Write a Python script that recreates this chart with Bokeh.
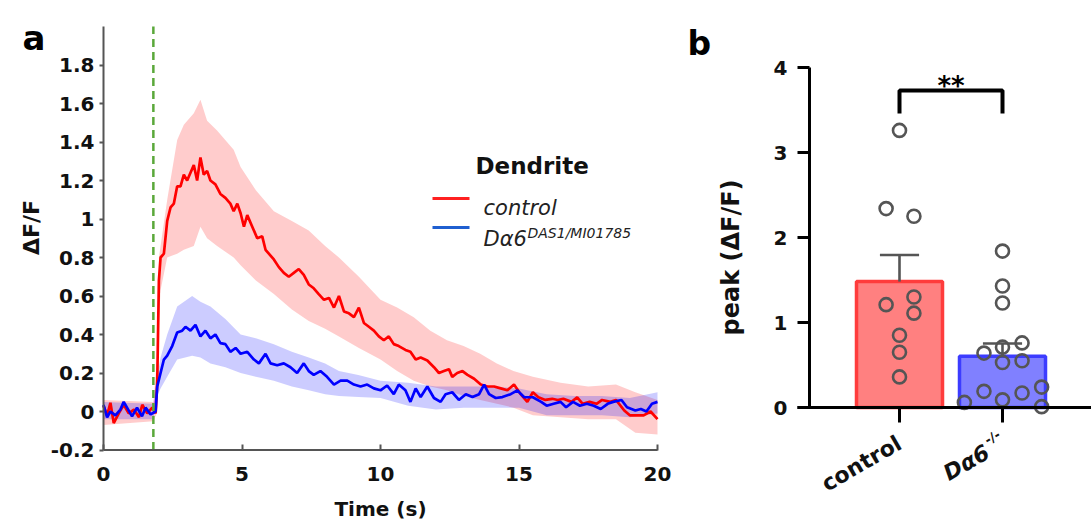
import numpy as np
from bokeh.plotting import figure
from bokeh.models import Range1d, FixedTicker, Label
from bokeh.layouts import row
from bokeh.embed import file_html
from bokeh.resources import INLINE

FONT = "DejaVu Sans"

# ---------------- panel a : calcium traces ----------------
red_t = [0.0, 0.13, 0.25, 0.37, 0.55, 0.73, 0.91, 1.1, 1.28, 1.4, 1.58, 1.76, 1.88,
         1.94, 2.0, 2.06, 2.18, 2.30, 2.42, 2.54, 2.66, 2.78, 2.90, 3.02, 3.14, 3.26,
         3.38, 3.50, 3.62, 3.74, 3.86, 4.04, 4.22, 4.40, 4.58, 4.70, 4.83, 4.95, 5.07,
         5.19, 5.37, 5.55, 5.73, 5.85, 6.03, 6.15, 6.33, 6.51, 6.69, 6.87, 7.05, 7.23,
         7.41, 7.59, 7.77, 7.96, 8.14, 8.32, 8.50, 8.68, 8.86, 9.04, 9.22, 9.40, 9.58,
         9.76, 9.94, 10.12, 10.30, 10.48, 10.66, 10.90, 11.08, 11.27, 11.45, 11.69,
         11.93, 12.11, 12.29, 12.47, 12.59, 12.77, 12.96, 13.14, 13.38, 13.62, 13.86,
         14.10, 14.34, 14.58, 14.82, 15.06, 15.30, 15.50, 15.70, 15.95, 16.20, 16.40,
         16.60, 16.90, 17.10, 17.30, 17.55, 17.80, 18.00, 18.30, 18.50, 18.80, 19.00,
         19.30, 19.50, 19.75, 20.00]
red_v = [0.03, -0.02, 0.045, -0.06, -0.01, 0.035, -0.01, 0.01, -0.03, 0.035, -0.01, 0.02, -0.01,
         0.15, 0.68, 0.80, 0.82, 0.99, 1.06, 1.08, 1.17, 1.17, 1.23, 1.20, 1.24, 1.28,
         1.20, 1.32, 1.23, 1.25, 1.20, 1.18, 1.13, 1.11, 1.08, 1.04, 1.08, 1.03, 0.96,
         1.02, 0.96, 0.90, 0.91, 0.84, 0.81, 0.79, 0.75, 0.72, 0.70, 0.72, 0.74, 0.71,
         0.66, 0.64, 0.61, 0.58, 0.59, 0.54, 0.60, 0.52, 0.51, 0.49, 0.54, 0.46, 0.44,
         0.42, 0.39, 0.37, 0.39, 0.35, 0.34, 0.32, 0.31, 0.27, 0.28, 0.265,
         0.23, 0.20, 0.21, 0.22, 0.18, 0.20, 0.21, 0.19, 0.17, 0.14, 0.13,
         0.13, 0.12, 0.11, 0.14, 0.09, 0.05, 0.10, 0.074, 0.06, 0.066, 0.06,
         0.066, 0.05, 0.074, 0.04, 0.05, 0.04, 0.06, 0.05, 0.06, 0.005, -0.02,
         -0.02, -0.02, 0.0, -0.04]

blue_t = [0.0, 0.13, 0.25, 0.43, 0.61, 0.73, 0.85, 1.03, 1.21, 1.39, 1.52, 1.70, 1.88,
          1.94, 2.06, 2.18, 2.30, 2.48, 2.66, 2.84, 2.96, 3.14, 3.32, 3.50, 3.68, 3.86,
          4.04, 4.22, 4.40, 4.58, 4.77, 4.95, 5.19, 5.43, 5.61, 5.85, 6.03, 6.27, 6.51,
          6.75, 6.99, 7.23, 7.41, 7.59, 7.83, 8.07, 8.32, 8.56, 8.80, 9.04, 9.28, 9.52,
          9.76, 10.00, 10.24, 10.48, 10.66, 10.90, 11.08, 11.27, 11.45, 11.69, 11.93,
          12.17, 12.35, 12.59, 12.83, 13.08, 13.32, 13.56, 13.74, 13.92, 14.16, 14.40,
          14.70, 14.94, 15.18, 15.50, 15.80, 16.00, 16.25, 16.50, 16.70, 16.95, 17.20,
          17.45, 17.70, 17.95, 18.20, 18.40, 18.70, 18.90, 19.20, 19.40, 19.60, 19.80, 20.00]
blue_v = [0.035, -0.03, 0.0, -0.02, 0.01, 0.05, 0.02, -0.025, 0.02, -0.025, 0.02, -0.015, 0.0,
          0.13, 0.20, 0.27, 0.29, 0.34, 0.41, 0.42, 0.44, 0.42, 0.45, 0.39, 0.42, 0.38,
          0.40, 0.355, 0.35, 0.31, 0.33, 0.30, 0.31, 0.27, 0.25, 0.30, 0.25, 0.24, 0.25,
          0.23, 0.20, 0.25, 0.21, 0.19, 0.21, 0.18, 0.14, 0.16, 0.16, 0.14, 0.13, 0.14,
          0.12, 0.11, 0.135, 0.09, 0.14, 0.11, 0.05, 0.12, 0.075, 0.13, 0.07,
          0.05, 0.09, 0.10, 0.06, 0.09, 0.075, 0.09, 0.14, 0.09, 0.07, 0.075,
          0.09, 0.11, 0.075, 0.074, 0.05, 0.03, 0.04, 0.05, 0.022, 0.05, 0.03,
          0.04, 0.03, 0.013, 0.04, 0.05, 0.06, 0.022, 0.005, 0.013, 0.0, 0.04, 0.05]

red_band_t = [0, 1.8, 1.95, 2.0, 2.06, 2.3, 2.66, 2.9, 3.26, 3.5, 3.74, 4.1, 4.7, 4.95, 5.5,
              6.15, 6.8, 7.41, 8.0, 8.5, 9.22, 10.0, 10.6, 11.2, 11.8, 12.4, 13.0, 13.6,
              14.2, 14.8, 15.5, 16.5, 17.5, 18.5, 19.2, 20]
red_upper = [0.06, 0.05, 0.30, 0.80, 0.86, 1.10, 1.41, 1.49, 1.55, 1.62, 1.51, 1.46, 1.36, 1.27,
             1.15, 1.04, 0.99, 0.94, 0.86, 0.80, 0.70, 0.58, 0.54, 0.49, 0.42, 0.37, 0.34,
             0.30, 0.25, 0.21, 0.18, 0.15, 0.13, 0.14, 0.10, 0.06]
red_lower = [-0.07, -0.05, 0.0, 0.45, 0.63, 0.80, 0.82, 0.84, 0.86, 0.96, 0.90, 0.86, 0.80, 0.76,
             0.68, 0.61, 0.53, 0.47, 0.43, 0.39, 0.33, 0.27, 0.21, 0.16, 0.13, 0.11, 0.08,
             0.06, 0.04, 0.02, -0.02, -0.03, -0.04, -0.04, -0.11, -0.12]

blue_band_t = [0, 1.8, 1.94, 2.06, 2.3, 2.66, 3.2, 3.5, 3.86, 4.4, 4.95, 5.5, 6.15, 6.8, 7.41,
               8.0, 8.5, 9.2, 10.0, 11.0, 12.0, 13.0, 14.0, 15.0, 16.0, 17.0, 18.0, 19.0, 20.0]
blue_upper = [0.05, 0.04, 0.18, 0.28, 0.40, 0.545, 0.60, 0.57, 0.545, 0.48, 0.40, 0.38, 0.35,
              0.31, 0.28, 0.25, 0.21, 0.19, 0.16, 0.15, 0.13, 0.13, 0.13, 0.12, 0.09, 0.08,
              0.08, 0.07, 0.10]
blue_lower = [-0.04, -0.04, 0.08, 0.12, 0.18, 0.27, 0.29, 0.28, 0.25, 0.23, 0.20, 0.18, 0.16,
              0.13, 0.11, 0.09, 0.08, 0.075, 0.07, 0.03, 0.01, 0.02, 0.02, 0.02, -0.02, -0.02,
              -0.02, -0.03, -0.01]

stim_time = 1.8
a_xlim = [0, 20]
a_ylim = [-0.2, 2.0]
a_xticks = [0, 5, 10, 15, 20]
a_yticks = [-0.2, 0, 0.2, 0.4, 0.6, 0.8, 1, 1.2, 1.4, 1.6, 1.8]
a_ytick_labels = ["-0.2", "0", "0.2", "0.4", "0.6", "0.8", "1", "1.2", "1.4", "1.6", "1.8"]
a_xlabel = "Time (s)"
a_ylabel = "ΔF/F"
legend_title = "Dendrite"
legend_names = ["control", "Dα6"]
legend_sup = "DAS1/MI01785"

# ---------------- panel b : peak values ----------------
b_categories = ["control", "Dα6"]
b_sup = "-/-"
b_ylabel = "peak (ΔF/F)"
control_peaks = [3.26, 2.34, 2.25, 1.21, 1.30, 1.11, 0.85, 0.65, 0.36]
control_jitter = [0.0, -0.13, 0.14, -0.13, 0.14, 0.14, 0.0, 0.0, 0.0]
da6_peaks = [1.84, 1.43, 1.23, 0.64, 0.71, 0.76, 0.53, 0.55, 0.19, 0.17, 0.24, 0.06, 0.09, 0.01]
da6_jitter = [0.0, 0.0, 0.0, -0.18, 0.0, 0.19, 0.0, 0.19, -0.18, 0.19, 0.38, -0.37, 0.0, 0.38]
b_yticks = [0, 1, 2, 3, 4]
sig_text = "**"

TXT = "#111111"

# ================= figure a =================
W_A, W_B, H = 680, 411, 525
AX, AY = 27.7, 192.5          # px per data unit
A_X0PX, A_Y0PX = 103, 411      # canvas position of (0, 0)

def a_pos(px, py):
    return (px - A_X0PX) / AX, (A_Y0PX - py) / AY

ax_lo, ay_hi = a_pos(0, 0)
ax_hi, ay_lo = a_pos(W_A, H)
pa = figure(width=W_A, height=H, x_range=Range1d(ax_lo, ax_hi), y_range=Range1d(ay_lo, ay_hi),
            output_backend="svg", toolbar_location=None,
            min_border_left=0, min_border_right=0, min_border_top=0, min_border_bottom=0)
pa.outline_line_color = None
pa.grid.visible = False

pa.varea(x=red_band_t, y1=red_lower, y2=red_upper, fill_color="#ff0000", fill_alpha=0.2)
pa.varea(x=blue_band_t, y1=blue_lower, y2=blue_upper, fill_color="#0000ff", fill_alpha=0.2)
pa.line(red_t, red_v, line_color="#ff0000", line_width=2.7)
pa.line(blue_t, blue_v, line_color="#0000ff", line_width=2.7)
pa.segment(x0=[stim_time], y0=[a_ylim[0]], x1=[stim_time], y1=[a_ylim[1]],
           line_color="#5aa83a", line_dash="8 5", line_width=2.5)

# axis lines
pa.segment(x0=[a_xlim[0], a_xlim[0]], y0=[a_ylim[0], a_ylim[0]],
           x1=[a_xlim[1], a_xlim[0]], y1=[a_ylim[0], a_ylim[1]],
           line_color="#555555", line_width=2)

xa = pa.xaxis[0]
xa.fixed_location = a_ylim[0]
xa.ticker = FixedTicker(ticks=a_xticks)
xa.axis_line_color = None
xa.major_tick_in = 6
xa.major_tick_out = 0
xa.minor_tick_line_color = None
xa.major_tick_line_color = "#555555"
xa.major_tick_line_width = 2
xa.major_label_text_font = FONT
xa.major_label_text_font_size = "20px"
xa.major_label_text_font_style = "bold"
xa.major_label_text_color = TXT
xa.major_label_standoff = 17

ya = pa.yaxis[0]
ya.fixed_location = a_xlim[0]
ya.ticker = FixedTicker(ticks=a_yticks)
ya.major_label_overrides = {t: s for t, s in zip(a_yticks, a_ytick_labels)}
ya.axis_line_color = None
ya.major_tick_in = 0
ya.major_tick_out = 4
ya.minor_tick_line_color = None
ya.major_tick_line_color = "#555555"
ya.major_tick_line_width = 2
ya.major_label_text_font = FONT
ya.major_label_text_font_size = "20px"
ya.major_label_text_font_style = "bold"
ya.major_label_text_color = TXT
ya.major_label_standoff = 5

tx, ty = a_pos(380, 508)
pa.add_layout(Label(x=tx, y=ty, text=a_xlabel, text_font=FONT, text_font_size="20px",
                    text_font_style="bold", text_color=TXT, text_align="center",
                    text_baseline="middle"))
tx, ty = a_pos(31, 227)
pa.add_layout(Label(x=tx, y=ty, text=a_ylabel, text_font=FONT, text_font_size="22px",
                    text_font_style="bold", text_color=TXT, text_align="center",
                    text_baseline="middle", angle=90, angle_units="deg"))

# legend (a)
lx0, ly_r = a_pos(432, 198)
lx1, ly_b = a_pos(469, 227)
pa.segment(x0=[lx0], y0=[ly_r], x1=[lx1], y1=[ly_r], line_color="#ff2020", line_width=3)
pa.segment(x0=[lx0], y0=[ly_b], x1=[lx1], y1=[ly_b], line_color="#1f5fd0", line_width=3)

tx, ty = a_pos(475, 165)
pa.add_layout(Label(x=tx, y=ty, text=legend_title, text_font=FONT, text_font_size="23px",
                    text_font_style="bold", text_color=TXT, text_baseline="alphabetic"))
tx, ty = a_pos(483, 207)
pa.add_layout(Label(x=tx, y=ty, text=legend_names[0], text_font=FONT, text_font_size="21px",
                    text_font_style="italic", text_color="#222222", text_baseline="alphabetic"))
tx, ty = a_pos(483, 238)
pa.add_layout(Label(x=tx, y=ty, text=legend_names[1], text_font=FONT, text_font_size="21px",
                    text_font_style="italic", text_color="#222222", text_baseline="alphabetic"))
tx, ty = a_pos(527, 232)
pa.add_layout(Label(x=tx, y=ty, text=legend_sup, text_font=FONT, text_font_size="14px",
                    text_font_style="italic", text_color="#222222", text_baseline="alphabetic"))
tx, ty = a_pos(22, 37)
pa.add_layout(Label(x=tx, y=ty, text="a", text_font=FONT, text_font_size="34px",
                    text_font_style="bold", text_color="black", text_baseline="alphabetic"))

# ================= figure b =================
BX, BY = 103.0, 85.0           # px per data unit
B_X1PX, B_Y0PX = 899 - W_A, 407  # canvas position of (1, 0)

def b_pos(px, py):
    # px, py in page pixels
    return 1 + (px - W_A - B_X1PX) / BX, (B_Y0PX - py) / BY

bx_lo, by_hi = b_pos(W_A, 0)
bx_hi, by_lo = b_pos(W_A + W_B, H)
pb = figure(width=W_B, height=H, x_range=Range1d(bx_lo, bx_hi), y_range=Range1d(by_lo, by_hi),
            output_backend="svg", toolbar_location=None,
            min_border_left=0, min_border_right=0, min_border_top=0, min_border_bottom=0)
pb.outline_line_color = None
pb.grid.visible = False

xs = np.array([1.0, 2.0])
groups = [np.array(control_peaks), np.array(da6_peaks)]
means = np.array([g.mean() for g in groups])
sems = np.array([g.std(ddof=1) / np.sqrt(len(g)) for g in groups])

pb.vbar(x=xs, width=0.835, top=means, bottom=0,
        fill_color=["#ff8080", "#8080ff"], line_color=["#ff3c3c", "#3c3cff"], line_width=3.5)
pb.segment(x0=xs, y0=means, x1=xs, y1=means + sems, line_color="#555555", line_width=2.6)
pb.segment(x0=xs - 0.19, y0=means + sems, x1=xs + 0.19, y1=means + sems,
           line_color="#555555", line_width=2.6)

pts_x = np.concatenate([1.0 + np.array(control_jitter), 2.0 + np.array(da6_jitter)])
pts_y = np.concatenate([control_peaks, da6_peaks])
pb.scatter(pts_x, pts_y, marker="circle", size=13, fill_color=None,
           line_color="#555555", line_width=2.6)

# significance bracket
sig_top, sig_leg = 3.73, 0.27
pb.line(x=[1, 1, 2, 2], y=[sig_top - sig_leg, sig_top, sig_top, sig_top - sig_leg],
        line_color="black", line_width=4)
pb.add_layout(Label(x=1.5, y=sig_top + 0.05, text=sig_text, text_font=FONT, text_font_size="26px",
                    text_font_style="bold", text_align="center", text_baseline="alphabetic",
                    text_color="black"))

# axes (GraphPad style: x axis line runs under the y ticks)
tick_left_x, _ = b_pos(797, 0)
yline_x, _ = b_pos(809, 0)
_, xaxis_y = b_pos(0, 422)
pb.segment(x0=[yline_x], y0=[0], x1=[yline_x], y1=[b_yticks[-1]], line_color="black", line_width=3)
pb.segment(x0=[tick_left_x], y0=[0], x1=[bx_hi], y1=[0], line_color="black", line_width=3)

yb = pb.yaxis[0]
yb.fixed_location = tick_left_x
yb.ticker = FixedTicker(ticks=b_yticks)
yb.axis_line_color = None
yb.major_tick_in = 12
yb.major_tick_out = 0
yb.minor_tick_line_color = None
yb.major_tick_line_color = "black"
yb.major_tick_line_width = 3
yb.major_label_text_font = FONT
yb.major_label_text_font_size = "20px"
yb.major_label_text_font_style = "bold"
yb.major_label_text_color = TXT
yb.major_label_standoff = 10

xb = pb.xaxis[0]
xb.fixed_location = xaxis_y
xb.ticker = FixedTicker(ticks=[1, 2])
xb.axis_line_color = None
xb.major_tick_in = 15
xb.major_tick_out = 0
xb.minor_tick_line_color = None
xb.major_tick_line_color = "black"
xb.major_tick_line_width = 3
xb.major_label_text_color = None
xb.major_label_text_font_size = "1px"

tx, ty = b_pos(730, 257)
pb.add_layout(Label(x=tx, y=ty, text=b_ylabel, text_font=FONT, text_font_size="24px",
                    text_font_style="bold", text_color=TXT, text_align="center",
                    text_baseline="middle", angle=90, angle_units="deg"))

# rotated category labels
def b_off(cx, dx_px, dy_px):
    return cx + dx_px / BX, -dy_px / BY

lx, ly = b_off(1.0, 0, 34)
pb.add_layout(Label(x=lx, y=ly, text=b_categories[0], angle=30, angle_units="deg",
                    text_align="right", text_baseline="alphabetic", text_font=FONT,
                    text_font_size="22px", text_font_style="bold", text_color=TXT))
main_dx, main_dy = -15, 43
lx, ly = b_off(2.0, main_dx, main_dy)
pb.add_layout(Label(x=lx, y=ly, text=b_categories[1], angle=30, angle_units="deg",
                    text_align="right", text_baseline="alphabetic", text_font=FONT,
                    text_font_size="22px", text_font_style="bold italic", text_color=TXT))
ang = np.deg2rad(30)
s_al, d_up = 3.0, 9.0
sx_px = main_dx + s_al * np.cos(ang) - d_up * np.sin(ang)
sy_px = main_dy - s_al * np.sin(ang) - d_up * np.cos(ang)
lx, ly = b_off(2.0, sx_px, sy_px)
pb.add_layout(Label(x=lx, y=ly, text=b_sup, angle=30, angle_units="deg",
                    text_align="left", text_baseline="alphabetic", text_font=FONT,
                    text_font_size="13px", text_font_style="bold", text_color=TXT))

tx, ty = b_pos(687, 43)
pb.add_layout(Label(x=tx, y=ty, text="b", text_font=FONT, text_font_size="33px",
                    text_font_style="bold", text_color="black", text_baseline="alphabetic"))

layout = row(pa, pb)
open("out.html", "w").write(file_html(layout, INLINE))
